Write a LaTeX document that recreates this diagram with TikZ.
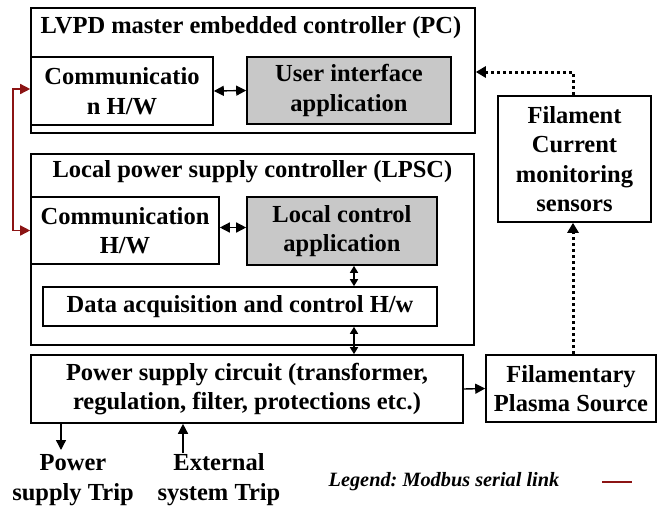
\documentclass[tikz,border=0pt]{standalone}
\usepackage{fontspec}
\setmainfont{Liberation Serif}
\usetikzlibrary{arrows.meta}
\definecolor{modbusred}{RGB}{140,20,20}
\definecolor{appgray}{RGB}{200,200,200}
\begin{document}
\begin{tikzpicture}[x=1pt,y=-1pt,
  box/.style={draw,line width=1.6pt,inner sep=0pt,align=center,font=\fontsize{24.5}{29.5}\selectfont\bfseries},
  grbox/.style={box,fill=appgray},
  lbl/.style={inner sep=0pt,align=center,font=\fontsize{24.5}{30}\selectfont\bfseries},
  tip/.tip={Triangle[length=10pt,width=10pt]},
  stip/.tip={Triangle[length=7pt,width=8pt]},
  arr/.style={line width=1.4pt,-tip},
  darr/.style={line width=1.4pt,tip-tip},
  sdarr/.style={line width=1.4pt,stip-stip},
  dots/.style={line width=3pt,dash pattern=on 3pt off 3pt,-{Triangle[length=10pt,width=11pt]}},
  modbus/.style={draw=modbusred,line width=1.5pt,tip-tip}]
\useasboundingbox (0,0) rectangle (662,509);
% PC
\node[box,minimum width=444pt,minimum height=125pt] (pc) at (253,70.5) {};
\node[lbl] (pct) at (251,28) {LVPD master embedded controller (PC)};
\node[box,minimum width=182pt,minimum height=68pt] (pccomm) at (122,91) {Communicatio\\n H/W};
\node[grbox,minimum width=204pt,minimum height=67pt] (ui) at (349,90.5) {User interface\\application};
% LPSC
\node[box,minimum width=443pt,minimum height=191pt] (lpsc) at (252.5,249.5) {};
\node[lbl] (lpsct) at (252.5,172) {Local power supply controller (LPSC)};
\node[box,minimum width=188pt,minimum height=67pt] (lcomm) at (125,230.5) {Communication\\H/W};
\node[grbox,minimum width=190pt,minimum height=68pt] (lca) at (342,231) {Local control\\application};
\node[box,minimum width=394pt,minimum height=39pt] (daq) at (240,306.5) {Data acquisition and control H/w};
% Power supply
\node[box,minimum width=432pt,minimum height=68pt] (ps) at (247,389) {Power supply circuit (transformer,\\regulation, filter, protections etc.)};
\node[box,minimum width=170pt,minimum height=67pt] (fps) at (571,388.5) {Filamentary\\Plasma Source};
\node[box,minimum width=153pt,minimum height=126pt] (sens) at (574.5,159) {Filament\\Current\\monitoring\\sensors};
% trips
\coordinate (ptrip) at (61,450);
\coordinate (etrip) at (183,453);
\node[lbl] (ptript) at (73,480) {Power\\supply Trip};
\node[lbl] (etript) at (219,480) {External\\system Trip};
% legend
\node[inner sep=0pt,font=\fontsize{20.3}{22}\selectfont\bfseries\itshape] (leg) at (444,482) {Legend:\ Modbus serial link};
\coordinate (legA) at (602,482);
\coordinate (legB) at (632,482);
\draw[draw=modbusred,line width=1.8pt] (legA) -- (legB);
% connectors
\draw[darr] (pccomm.east) -- (ui.west);
\draw[darr] ([yshift=3pt]lcomm.east) -- ([yshift=3pt]lcomm.east -| lca.west);
\coordinate (vx) at (354,0);
\draw[sdarr] (lca.south -| vx) -- (daq.north -| vx);
\draw[sdarr] (daq.south -| vx) -- (ps.north -| vx);
\draw[arr] (ps.east) -- (fps.west);
\draw[arr] (ps.south -| ptrip) -- (ptrip);
\draw[arr] (etrip) -- (ps.south -| etrip);
\coordinate (dx) at (573,0);
\draw[dots] (fps.north -| dx) -- (sens.south -| dx);
\coordinate (turn) at (573,72);
\draw[dots] (sens.north -| dx) -- (turn) -- (turn -| pc.east);
\draw[modbus] ([yshift=2pt]pccomm.west) -| (13,160) |- (lcomm.west);
\end{tikzpicture}
\end{document}
